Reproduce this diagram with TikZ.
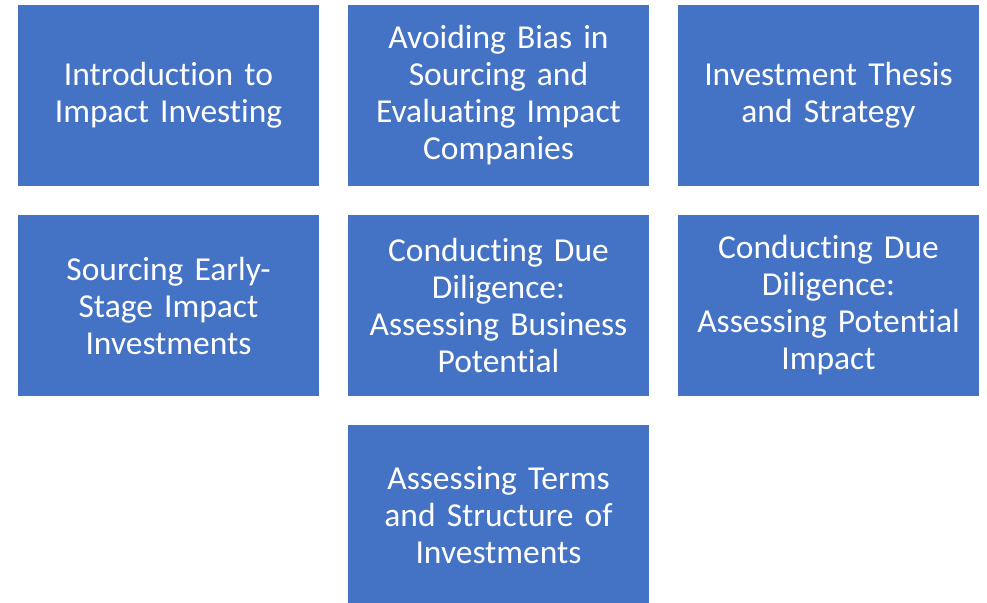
\documentclass[tikz,border=0pt]{standalone}
\usepackage{fontspec}
\setmainfont[Ligatures=NoCommon]{Carlito}
\definecolor{boxblue}{HTML}{4472C4}
\begin{document}
\begin{tikzpicture}[x=1pt,y=1pt,
  topic/.style={fill=boxblue, draw=none, minimum width=301pt, minimum height=181pt,
    text=white, align=center, text width=295pt, inner sep=0pt,
    font=\fontsize{33.5}{37}\selectfont}]
\useasboundingbox (0,0) rectangle (987,-602);
\node[topic] (a) at (168.5,-95.5) {Introduction to\\Impact Investing};
\node[topic] (b) at (498.5,-95.5) {Avoiding Bias in\\Sourcing and\\Evaluating Impact\\Companies};
\node[topic] (c) at (828.5,-95.5) {Investment Thesis\\and Strategy};
\node[topic] (d) at (168.5,-305.5) {Sourcing Early-\\Stage Impact\\Investments};
\node[topic] (e) at (498.5,-305.5) {Conducting Due\\Diligence:\\Assessing Business\\Potential};
\node[topic] (f) at (828.5,-305.5) {Conducting Due\\Diligence:\\Assessing Potential\\Impact};
\node[topic] (g) at (498.5,-515.5) {Assessing Terms\\and Structure of\\Investments};
\end{tikzpicture}
\end{document}
